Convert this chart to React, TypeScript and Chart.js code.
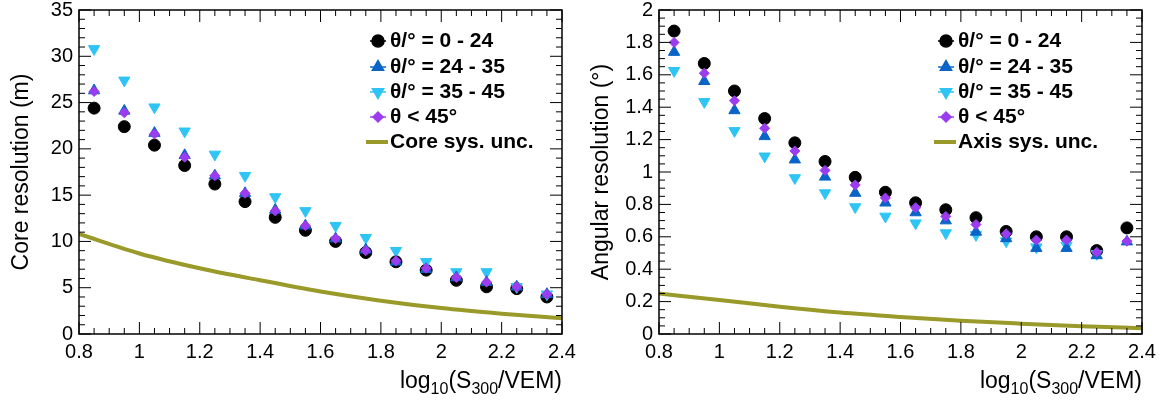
import { useEffect, useRef } from 'react';
import { Chart, registerables } from 'chart.js';
import { drawPoint } from 'chart.js/helpers';

Chart.register(...registerables);

// bin centres in log10(S300/VEM)
const binCentres = [0.85, 0.95, 1.05, 1.15, 1.25, 1.35, 1.45, 1.55, 1.65, 1.75, 1.85, 1.95, 2.05, 2.15, 2.25, 2.35];

const coreTheta0to24 = [24.4, 22.4, 20.4, 18.2, 16.2, 14.3, 12.6, 11.2, 10.0, 8.8, 7.8, 6.9, 5.8, 5.1, 4.9, 4.0];
const coreTheta24to35 = [26.3, 24.1, 21.7, 19.3, 17.1, 15.2, 13.4, 11.7, 10.3, 9.1, 7.8, 7.0, 6.1, 5.6, 5.1, 4.3];
const coreTheta35to45 = [30.8, 27.4, 24.5, 21.9, 19.4, 17.1, 14.8, 13.3, 11.7, 10.4, 9.0, 7.8, 6.7, 6.7, 5.1, 4.3];
const coreThetaAll = [26.2, 23.9, 21.6, 19.1, 17.1, 15.2, 13.3, 11.7, 10.3, 9.0, 7.9, 7.1, 6.1, 5.6, 5.1, 4.3];

const angTheta0to24 = [1.87, 1.67, 1.5, 1.33, 1.18, 1.065, 0.967, 0.875, 0.81, 0.767, 0.718, 0.633, 0.6, 0.6, 0.515, 0.655];
const angTheta24to35 = [1.74, 1.56, 1.38, 1.22, 1.076, 0.97, 0.87, 0.81, 0.75, 0.7, 0.63, 0.59, 0.53, 0.53, 0.485, 0.57];
const angTheta35to45 = [1.625, 1.433, 1.254, 1.097, 0.963, 0.87, 0.784, 0.726, 0.684, 0.623, 0.612, 0.573, 0.536, 0.546, 0.495, null];
const angThetaAll = [1.8, 1.61, 1.44, 1.27, 1.13, 1.01, 0.92, 0.84, 0.78, 0.726, 0.676, 0.619, 0.58, 0.58, 0.505, 0.573];

// systematic-uncertainty curves
const sysX = [0.8, 1.0, 1.2, 1.4, 1.6, 1.8, 2.0, 2.2, 2.4];
const coreSys = [10.8, 8.7, 7.1, 5.8, 4.6, 3.6, 2.8, 2.2, 1.7];
const axisSys = [0.25, 0.21, 0.168, 0.132, 0.105, 0.082, 0.064, 0.048, 0.036];

const xTicks = [0.8, 1, 1.2, 1.4, 1.6, 1.8, 2, 2.2, 2.4];
const coreYTicks = [0, 5, 10, 15, 20, 25, 30, 35];
const angYTicks = [0, 0.2, 0.4, 0.6, 0.8, 1, 1.2, 1.4, 1.6, 1.8, 2];

const legendLabels = ['θ/° = 0 - 24', 'θ/° = 24 - 35', 'θ/° = 35 - 45', 'θ < 45°'];
const FONT = '"Liberation Sans", Arial, sans-serif';

const pts = (ys: (number | null)[]) => binCentres.map((x, i) => ({ x, y: ys[i] }));

interface PanelProps {
  series: (number | null)[][];
  sys: number[];
  yMax: number;
  yTicks: number[];
  yMinorStep: number;
  yTitle: string;
  sysLabel: string;
  legendX: number;
}

function Panel({ series, sys, yMax, yTicks, yMinorStep, yTitle, sysLabel, legendX }: PanelProps) {
  const canvasRef = useRef<HTMLCanvasElement>(null);

  useEffect(() => {
    if (!canvasRef.current) return;
    const styles = [
      { color: '#000000', style: 'circle', radius: 6, rotation: 0, order: 4 },
      { color: '#0a64c8', style: 'triangle', radius: 6.5, rotation: 0, order: 2 },
      { color: '#2ec4f5', style: 'triangle', radius: 6.5, rotation: 180, order: 3 },
      { color: '#9b3cf0', style: 'rectRot', radius: 5, rotation: 0, order: 1 },
    ];

    const frame = {
      id: 'frame',
      afterDraw(chart: any) {
        const { ctx, chartArea: a, scales } = chart;
        const xs = scales.x, ys = scales.y;
        ctx.save();
        ctx.strokeStyle = '#000';
        ctx.lineWidth = 1.5;
        ctx.strokeRect(a.left, a.top, a.right - a.left, a.bottom - a.top);
        ctx.lineWidth = 1;
        ctx.beginPath();
        for (let v = 0.8; v <= 2.4001; v += 0.05) {
          const major = Math.abs(v * 5 - Math.round(v * 5)) < 1e-6;
          const l = major ? 12 : 6;
          const px = xs.getPixelForValue(v);
          ctx.moveTo(px, a.bottom); ctx.lineTo(px, a.bottom - l);
          ctx.moveTo(px, a.top); ctx.lineTo(px, a.top + l);
        }
        for (let v = 0; v <= yMax + 1e-6; v += yMinorStep) {
          const major = yTicks.some((t) => Math.abs(t - v) < 1e-6);
          const l = major ? 12 : 6;
          const py = ys.getPixelForValue(v);
          ctx.moveTo(a.left, py); ctx.lineTo(a.left + l, py);
          ctx.moveTo(a.right, py); ctx.lineTo(a.right - l, py);
        }
        ctx.stroke();

        ctx.fillStyle = '#000';
        ctx.font = `20px ${FONT}`;
        ctx.textAlign = 'center';
        ctx.textBaseline = 'top';
        xTicks.forEach((t) => ctx.fillText(String(t), xs.getPixelForValue(t), a.bottom + 8));
        ctx.textAlign = 'right';
        ctx.textBaseline = 'middle';
        yTicks.forEach((t) => ctx.fillText(String(t), a.left - 6, ys.getPixelForValue(t)));

        // x title with sub-scripts
        ctx.textAlign = 'left';
        ctx.textBaseline = 'alphabetic';
        const parts: [string, boolean][] = [['log', false], ['10', true], ['(S', false], ['300', true], ['/VEM)', false]];
        const big = `23px ${FONT}`, small = `16px ${FONT}`;
        let w = 0;
        parts.forEach(([s, sub]) => { ctx.font = sub ? small : big; w += ctx.measureText(s).width; });
        let x = a.right - w;
        const base = 388;
        parts.forEach(([s, sub]) => {
          ctx.font = sub ? small : big;
          ctx.fillText(s, x, sub ? base + 6 : base);
          x += ctx.measureText(s).width;
        });

        // y title, centred on the axis
        ctx.save();
        ctx.translate(28, (a.top + a.bottom) / 2);
        ctx.rotate(-Math.PI / 2);
        ctx.font = big;
        ctx.textAlign = 'center';
        ctx.fillText(yTitle, 0, 0);
        ctx.restore();

        // legend
        ctx.font = `bold 21px ${FONT}`;
        ctx.textBaseline = 'middle';
        ctx.textAlign = 'left';
        const rows = [41, 67, 92, 117, 142];
        styles.forEach((s, i) => {
          ctx.strokeStyle = s.color;
          ctx.lineWidth = 1.5;
          ctx.beginPath(); ctx.moveTo(legendX - 8, rows[i]); ctx.lineTo(legendX + 8, rows[i]); ctx.stroke();
          ctx.fillStyle = s.color;
          ctx.strokeStyle = s.color;
          drawPoint(ctx, { pointStyle: s.style as any, radius: s.radius, rotation: s.rotation, borderWidth: 1 }, legendX, rows[i]);
          ctx.fillStyle = '#000';
          ctx.fillText(legendLabels[i], legendX + 12, rows[i]);
        });
        ctx.strokeStyle = '#9a9a2a';
        ctx.lineWidth = 4;
        ctx.beginPath(); ctx.moveTo(legendX - 12, rows[4]); ctx.lineTo(legendX + 10, rows[4]); ctx.stroke();
        ctx.fillStyle = '#000';
        ctx.fillText(sysLabel, legendX + 12, rows[4]);
        ctx.restore();
      },
    };

    const chart = new Chart(canvasRef.current, {
      type: 'scatter',
      data: {
        datasets: [
          ...series.map((ys, i) => ({
            label: legendLabels[i],
            data: pts(ys),
            backgroundColor: styles[i].color,
            borderColor: styles[i].color,
            pointStyle: styles[i].style as any,
            pointRadius: styles[i].radius,
            rotation: styles[i].rotation,
            order: styles[i].order,
          })),
          {
            label: sysLabel,
            type: 'line' as const,
            data: sysX.map((x, i) => ({ x, y: sys[i] })),
            borderColor: '#9a9a2a',
            borderWidth: 4,
            pointRadius: 0,
            cubicInterpolationMode: 'monotone' as const,
            order: 5,
          },
        ],
      },
      options: {
        animation: false,
        responsive: false,
        layout: { padding: { left: 79, top: 10, right: 18, bottom: 76 } },
        scales: {
          x: { type: 'linear', min: 0.8, max: 2.4, display: false },
          y: { type: 'linear', min: 0, max: yMax, display: false },
        },
        plugins: { legend: { display: false }, tooltip: { enabled: false } },
      },
      plugins: [frame],
    });
    return () => chart.destroy();
  }, []);

  return <canvas ref={canvasRef} width={580} height={410} style={{ width: 580, height: 410 }} />;
}

export default function App() {
  return (
    <div style={{ position: 'absolute', left: 0, top: 0, width: 1160, height: 410, background: '#fff', display: 'flex' }}>
      <Panel
        series={[coreTheta0to24, coreTheta24to35, coreTheta35to45, coreThetaAll]}
        sys={coreSys}
        yMax={35}
        yTicks={coreYTicks}
        yMinorStep={1}
        yTitle="Core resolution (m)"
        sysLabel="Core sys. unc."
        legendX={378}
      />
      <Panel
        series={[angTheta0to24, angTheta24to35, angTheta35to45, angThetaAll]}
        sys={axisSys}
        yMax={2}
        yTicks={angYTicks}
        yMinorStep={0.05}
        yTitle="Angular resolution (°)"
        sysLabel="Axis sys. unc."
        legendX={366}
      />
    </div>
  );
}
